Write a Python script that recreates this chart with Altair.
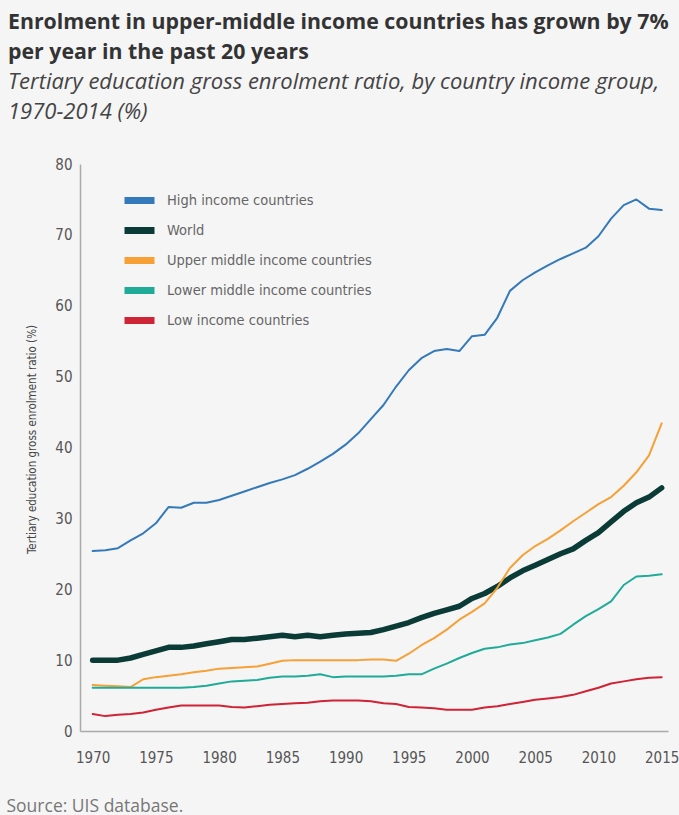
import altair as alt
import pandas as pd

years = list(range(1970, 2016))

high_income = [25.4, 25.5, 25.8, 26.9, 27.9, 29.3, 31.6, 31.5, 32.2, 32.2,
               32.6, 33.2, 33.8, 34.4, 35.0, 35.5, 36.1, 37.0, 38.0, 39.1,
               40.4, 42.0, 44.0, 46.0, 48.6, 50.9, 52.6, 53.6, 53.9, 53.6,
               55.7, 55.9, 58.3, 62.1, 63.6, 64.7, 65.7, 66.6, 67.4, 68.2,
               69.8, 72.3, 74.2, 75.0, 73.7, 73.5]
world = [10.0, 10.0, 10.0, 10.3, 10.8, 11.3, 11.8, 11.8, 12.0, 12.3,
         12.6, 12.9, 12.9, 13.1, 13.3, 13.5, 13.3, 13.5, 13.3, 13.5,
         13.7, 13.8, 13.9, 14.3, 14.8, 15.3, 16.0, 16.6, 17.1, 17.6,
         18.7, 19.4, 20.4, 21.6, 22.6, 23.4, 24.2, 25.0, 25.7, 26.9,
         28.0, 29.5, 31.0, 32.2, 33.0, 34.3]
upper_middle = [6.5, 6.4, 6.3, 6.2, 7.3, 7.6, 7.8, 8.0, 8.3, 8.5,
                8.8, 8.9, 9.0, 9.1, 9.5, 9.9, 10.0, 10.0, 10.0, 10.0,
                10.0, 10.0, 10.1, 10.1, 9.9, 10.9, 12.1, 13.1, 14.3, 15.7,
                16.8, 18.0, 20.2, 23.0, 24.8, 26.1, 27.1, 28.3, 29.6, 30.8,
                32.0, 33.0, 34.6, 36.5, 38.9, 43.4]
lower_middle = [6.1, 6.1, 6.1, 6.1, 6.1, 6.1, 6.1, 6.1, 6.2, 6.4,
                6.7, 7.0, 7.1, 7.2, 7.5, 7.7, 7.7, 7.8, 8.0, 7.6,
                7.7, 7.7, 7.7, 7.7, 7.8, 8.0, 8.0, 8.8, 9.5, 10.3,
                11.0, 11.6, 11.8, 12.2, 12.4, 12.8, 13.2, 13.7, 15.0, 16.2,
                17.2, 18.3, 20.6, 21.8, 21.9, 22.1]
low_income = [2.4, 2.1, 2.3, 2.4, 2.6, 3.0, 3.3, 3.6, 3.6, 3.6,
              3.6, 3.4, 3.3, 3.5, 3.7, 3.8, 3.9, 4.0, 4.2, 4.3,
              4.3, 4.3, 4.2, 3.9, 3.8, 3.4, 3.3, 3.2, 3.0, 3.0,
              3.0, 3.3, 3.5, 3.8, 4.1, 4.4, 4.6, 4.8, 5.1, 5.6,
              6.1, 6.7, 7.0, 7.3, 7.5, 7.6]

series_names = ["High income countries", "World", "Upper middle income countries",
                "Lower middle income countries", "Low income countries"]
series_values = [high_income, world, upper_middle, lower_middle, low_income]
series_colors = ["#3479b9", "#0b3b36", "#f6a035", "#1fab98", "#cf2336"]
x_ticks = list(range(1970, 2016, 5))

rows = []
for name, vals in zip(series_names, series_values):
    for y, v in zip(years, vals):
        rows.append({"year": y, "value": v, "series": name})
df = pd.DataFrame(rows)

cond_font = "DejaVu Sans Condensed, Liberation Sans Narrow, Roboto"

chart = alt.Chart(df).mark_line(strokeCap="round", strokeJoin="round").encode(
    x=alt.X("year:Q",
            scale=alt.Scale(domain=[1969, 2015.5], nice=False, zero=False),
            axis=alt.Axis(values=x_ticks, format="d", grid=False, ticks=False,
                          labelPadding=19, labelFontSize=15, labelColor="#555",
                          labelFont=cond_font,
                          domainColor="#aaaaaa", domainWidth=1.5,
                          title="Source: UIS database.", titleX=-74, titleY=80,
                          titleAnchor="start", titleAlign="left",
                          titleBaseline="alphabetic", titleFont="Open Sans",
                          titleFontSize=17.5, titleFontWeight="normal",
                          titleColor="#777", labelOverlap=False, labelFlush=False)),
    y=alt.Y("value:Q",
            scale=alt.Scale(domain=[0, 80], nice=False),
            axis=alt.Axis(values=list(range(0, 81, 10)), grid=False, ticks=False,
                          labelPadding=8, labelFontSize=15, labelColor="#555",
                          labelFont=cond_font,
                          domainColor="#aaaaaa", domainWidth=1.5,
                          title="Tertiary education gross enrolment ratio (%)",
                          titleX=-48, titleY=275, titleAngle=-90, titleAlign="center",
                          titleBaseline="middle",
                          titleFont=cond_font,
                          titleFontSize=11.5, titleFontWeight="normal", titleColor="#444")),
    color=alt.Color("series:N",
                    scale=alt.Scale(domain=series_names, range=series_colors),
                    sort=series_names,
                    legend=alt.Legend(orient="none", legendX=44, legendY=21,
                                      title=None, symbolType="M-1.25,0H1.25",
                                      symbolStrokeWidth=7, symbolSize=576,
                                      labelFontSize=14.5, labelColor="#666",
                                      labelFont=cond_font, labelLimit=0,
                                      labelOffset=12, rowPadding=-1.2, padding=0,
                                      symbolOpacity=1)),
    strokeWidth=alt.condition(alt.datum.series == "World", alt.value(5.5), alt.value(2)),
    order=alt.Order("year:Q"),
).properties(
    width=588,
    height=567,
    background="#f5f5f5",
    padding={"left": 80, "top": 164, "right": 11, "bottom": 84},
    autosize=alt.AutoSizeParams(type="none"),
    title=alt.TitleParams(
        text=["Enrolment in upper-middle income countries has grown by 7%",
              "per year in the past 20 years"],
        subtitle=["Tertiary education gross enrolment ratio, by country income group,",
                  "1970-2014 (%)"],
        anchor="start", frame="group", dx=-72, offset=34,
        font="Open Sans", fontSize=21.3, fontWeight="bold", color="#333", lineHeight=30,
        subtitleFont="Open Sans", subtitleFontSize=22, subtitleFontStyle="italic",
        subtitleColor="#444", subtitleLineHeight=30, subtitlePadding=9,
    ),
).configure_view(stroke=None)

chart.save("out.html", embed_options={"renderer": "svg", "actions": False})
